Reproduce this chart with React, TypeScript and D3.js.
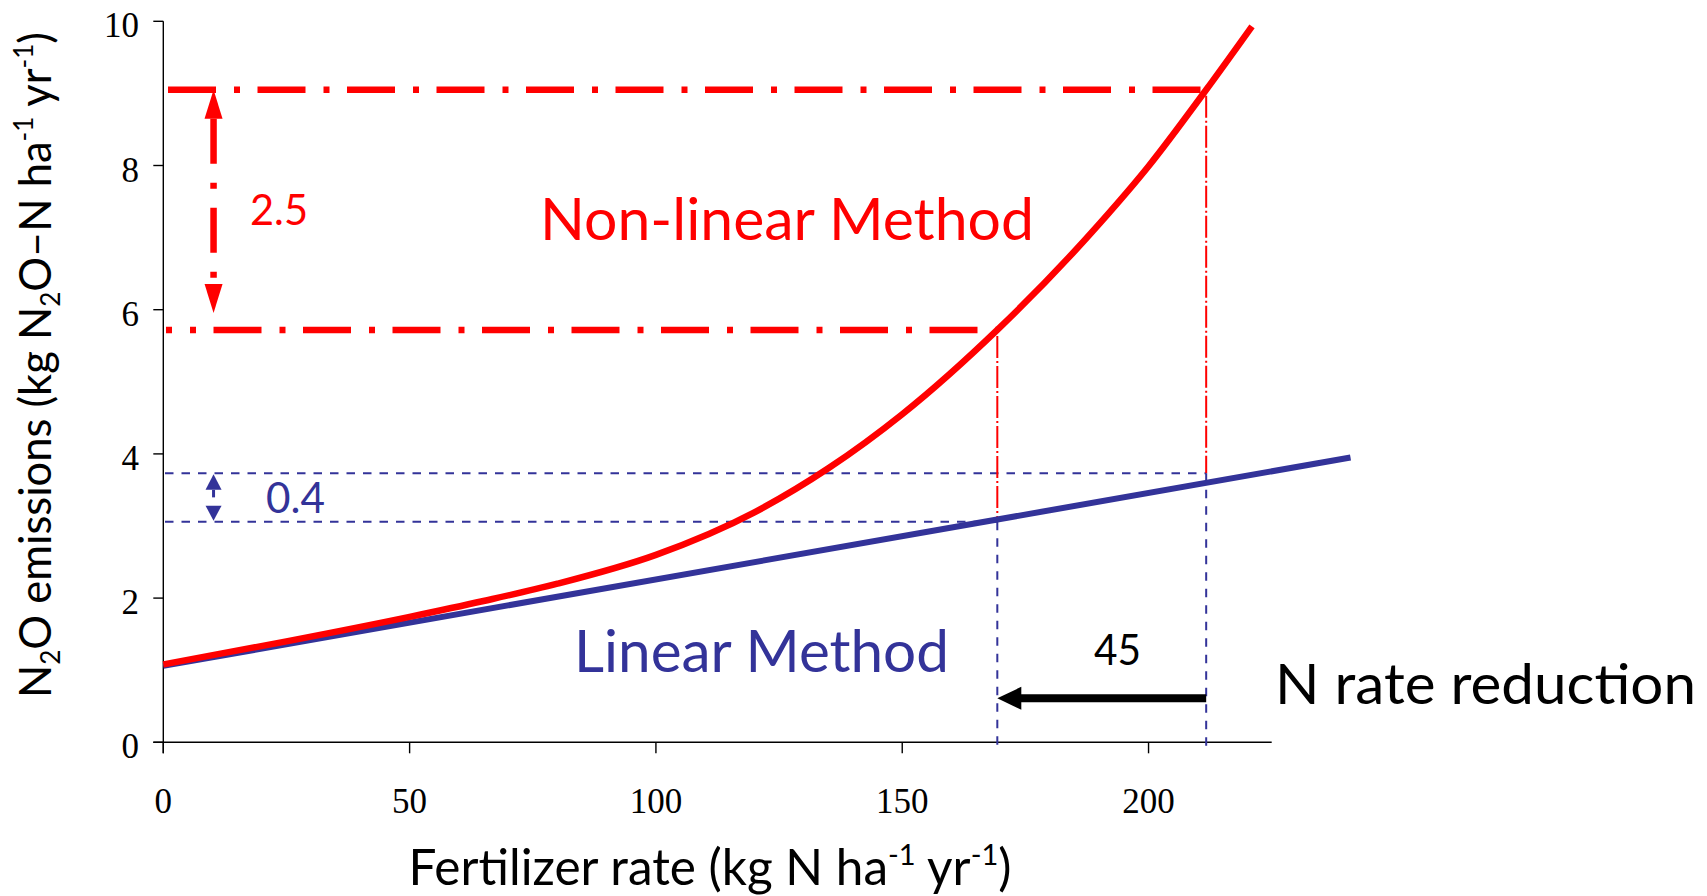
import React from 'react';
import * as d3 from 'd3';

// ---- data ----
const xTickValues = [0, 50, 100, 150, 200];
const yTickValues = [0, 2, 4, 6, 8, 10];

// Non-linear method: fertilizer rate vs N2O emission
const nonLinearRate = [0, 25, 50, 65, 80, 100, 120, 135, 150, 169.3, 190, 200, 211.7, 221];
const nonLinearEmission = [1.08, 1.4, 1.74, 1.96, 2.2, 2.6, 3.19, 3.8, 4.55, 5.72, 7.19, 7.99, 9.05, 9.93];

// Linear method
const linearRate = [0, 241];
const linearEmission = [1.06, 3.95];

// Scenario rates and the emission levels marked
const currentRate = 211.7;
const reducedRate = 169.3;
const nonLinearLevels = [9.05, 5.72]; // at current, reduced
const linearLevels = [3.73, 3.06]; // at current, reduced
const deltaLabels = ['2.5', '0.4', '45'];

const RED = '#FF0000';
const BLUE = '#333399';
const SANS = 'Lato, Carlito, Calibri, sans-serif';
const SERIF = '"Liberation Serif", "Times New Roman", serif';

export default function App() {
  const x = d3.scaleLinear().domain([0, 225]).range([163.3, 1271.7]);
  const y = d3.scaleLinear().domain([0, 10]).range([742.3, 21.3]);

  const nonLinearPath = d3
    .line<[number, number]>()
    .x((d) => x(d[0]))
    .y((d) => y(d[1]))
    .curve(d3.curveMonotoneX)(
    nonLinearRate.map((r, i) => [r, nonLinearEmission[i]] as [number, number])
  ) as string;
  const linearPath = d3
    .line<[number, number]>()
    .x((d) => x(d[0]))
    .y((d) => y(d[1]))(linearRate.map((r, i) => [r, linearEmission[i]] as [number, number])) as string;

  const x0 = x(0);
  const yBase = y(0);
  const xCur = x(currentRate);
  const xRed = x(reducedRate);
  const arrowX = x(10.2);

  // red arrow geometry
  const rTopTip = y(nonLinearLevels[0]);
  const rTopBase = rTopTip + 29;
  const rBotTip = y(nonLinearLevels[1]) - 17;
  const rBotBase = rBotTip - 29;

  // blue arrow geometry
  const bTopTip = y(linearLevels[0]) + 1;
  const bTopBase = bTopTip + 15.5;
  const bBotTip = y(linearLevels[1]) - 1;
  const bBotBase = bBotTip - 15;

  // black arrow
  const kY = 698.3;

  return (
    <svg
      width={1707}
      height={896}
      style={{ position: 'absolute', left: 0, top: 0, background: '#fff' }}
    >
      <rect x={0} y={0} width={1707} height={896} fill="#fff" />

      {/* axes */}
      <line x1={x0} x2={x0} y1={y(10)} y2={yBase + 11} stroke="#000" strokeWidth={1.4} />
      <line x1={x0 - 10} x2={x(225)} y1={yBase} y2={yBase} stroke="#000" strokeWidth={1.4} />
      {yTickValues.map((t) => (
        <g key={'yt' + t}>
          <line x1={x0 - 10} x2={x0} y1={y(t)} y2={y(t)} stroke="#000" strokeWidth={1.4} />
          <text x={139} y={y(t) + 16} textAnchor="end" fontFamily={SERIF} fontSize={35} fill="#000">
            {t}
          </text>
        </g>
      ))}
      {xTickValues.map((t) => (
        <g key={'xt' + t}>
          <line x1={x(t)} x2={x(t)} y1={yBase} y2={yBase + 11} stroke="#000" strokeWidth={1.4} />
          <text x={x(t)} y={813} textAnchor="middle" fontFamily={SERIF} fontSize={35} fill="#000">
            {t}
          </text>
        </g>
      ))}

      {/* red dash-dot horizontal reference lines */}
      <line
        x1={168}
        x2={xCur}
        y1={y(nonLinearLevels[0])}
        y2={y(nonLinearLevels[0])}
        stroke={RED}
        strokeWidth={6.5}
        strokeDasharray="48,18,6,17.5"
      />
      <line
        x1={166}
        x2={xRed}
        y1={y(nonLinearLevels[1])}
        y2={y(nonLinearLevels[1])}
        stroke={RED}
        strokeWidth={6.5}
        strokeDasharray="48,18,6,17.5"
        strokeDashoffset={42}
      />

      {/* blue dashed horizontal reference lines */}
      <line
        x1={165}
        x2={xCur}
        y1={y(linearLevels[0])}
        y2={y(linearLevels[0])}
        stroke={BLUE}
        strokeWidth={2}
        strokeDasharray="8.5,8"
      />
      <line
        x1={165}
        x2={xRed}
        y1={y(linearLevels[1])}
        y2={y(linearLevels[1])}
        stroke={BLUE}
        strokeWidth={2}
        strokeDasharray="8.5,8"
      />

      {/* vertical guide lines */}
      {[
        [xCur, nonLinearLevels[0], linearLevels[0]],
        [xRed, nonLinearLevels[1], linearLevels[1]],
      ].map(([xx, top, mid], i) => (
        <g key={'vg' + i}>
          <line
            x1={xx}
            x2={xx}
            y1={y(top) + 6}
            y2={y(mid)}
            stroke={RED}
            strokeWidth={2}
            strokeDasharray="22,3,2,3"
          />
          <line
            x1={xx}
            x2={xx}
            y1={y(mid)}
            y2={yBase + 5}
            stroke={BLUE}
            strokeWidth={2}
            strokeDasharray="8.5,8"
          />
        </g>
      ))}

      {/* series */}
      <path d={linearPath} fill="none" stroke={BLUE} strokeWidth={6} />
      <path d={nonLinearPath} fill="none" stroke={RED} strokeWidth={6.5} />

      {/* red arrow (2.5) */}
      <line
        x1={arrowX}
        x2={arrowX}
        y1={rTopBase}
        y2={rBotBase}
        stroke={RED}
        strokeWidth={6.5}
        strokeDasharray="45,19,6,19"
      />
      <path
        d={`M${arrowX},${rTopTip} L${arrowX - 9},${rTopBase} L${arrowX + 9},${rTopBase} Z`}
        fill={RED}
      />
      <path
        d={`M${arrowX},${rBotTip} L${arrowX - 9},${rBotBase} L${arrowX + 9},${rBotBase} Z`}
        fill={RED}
      />
      <text
        x={250}
        y={225}
        fontFamily={SANS}
        fontSize={42}
        fill={RED}
        textLength={58}
        lengthAdjust="spacingAndGlyphs"
      >
        {deltaLabels[0]}
      </text>

      {/* blue arrow (0.4) */}
      <line x1={arrowX} x2={arrowX} y1={bTopBase} y2={bTopBase + 7.5} stroke={BLUE} strokeWidth={3} />
      <path
        d={`M${arrowX},${bTopTip} L${arrowX - 8},${bTopBase} L${arrowX + 8},${bTopBase} Z`}
        fill={BLUE}
      />
      <path
        d={`M${arrowX},${bBotTip} L${arrowX - 8},${bBotBase} L${arrowX + 8},${bBotBase} Z`}
        fill={BLUE}
      />
      <text
        x={266}
        y={513}
        fontFamily={SANS}
        fontSize={42}
        fill={BLUE}
        textLength={59}
        lengthAdjust="spacingAndGlyphs"
      >
        {deltaLabels[1]}
      </text>

      {/* black arrow (45) */}
      <line x1={xCur} x2={xRed + 23} y1={kY} y2={kY} stroke="#000" strokeWidth={8} />
      <path d={`M${xRed},${kY} L${xRed + 24},${kY - 11.5} L${xRed + 24},${kY + 11.5} Z`} fill="#000" />
      <text
        x={1094}
        y={665}
        fontFamily={SANS}
        fontSize={42}
        fill="#000"
        textLength={47}
        lengthAdjust="spacingAndGlyphs"
      >
        {deltaLabels[2]}
      </text>

      {/* method labels */}
      <text
        x={540}
        y={239.5}
        fontFamily={SANS}
        fontSize={58}
        fill={RED}
        textLength={494}
        lengthAdjust="spacingAndGlyphs"
      >
        Non-linear Method
      </text>
      <text
        x={574}
        y={672}
        fontFamily={SANS}
        fontSize={58}
        fill={BLUE}
        textLength={375}
        lengthAdjust="spacingAndGlyphs"
      >
        Linear Method
      </text>
      <text
        x={1275}
        y={704}
        fontFamily={SANS}
        fontSize={57}
        fill="#000"
        textLength={421}
        lengthAdjust="spacingAndGlyphs"
      >
        N rate reduction
      </text>

      {/* axis titles */}
      <text x={710} y={885} textAnchor="middle" fontFamily={SANS} fontSize={49.5} fill="#000">
        Fertilizer rate (kg N ha
        <tspan fontSize={29} dy={-20}>-1</tspan>
        <tspan dy={20}> yr</tspan>
        <tspan fontSize={29} dy={-20}>-1</tspan>
        <tspan dy={20}>)</tspan>
      </text>
      <text
        transform="translate(51,365) rotate(-90)"
        textAnchor="middle"
        fontFamily={SANS}
        fontSize={43.5}
        fill="#000"
      >
        N<tspan fontSize={26} dy={9}>2</tspan>
        <tspan dy={-9}>O emissions (kg N</tspan>
        <tspan fontSize={26} dy={9}>2</tspan>
        <tspan dy={-9}>O–N ha</tspan>
        <tspan fontSize={26} dy={-18}>-1</tspan>
        <tspan dy={18}> yr</tspan>
        <tspan fontSize={26} dy={-18}>-1</tspan>
        <tspan dy={18}>)</tspan>
      </text>
    </svg>
  );
}
